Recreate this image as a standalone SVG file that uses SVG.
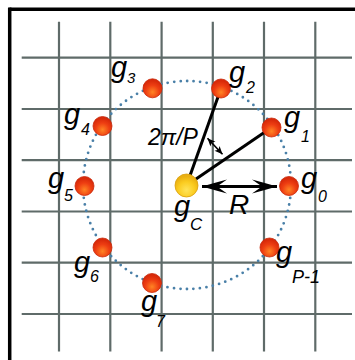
<svg xmlns="http://www.w3.org/2000/svg" width="355" height="360" viewBox="0 0 355 360">
<style>
.grid{stroke:#5f6b69;stroke-width:2.2;fill:none}
.frame{stroke:#000;stroke-width:3.5;fill:none}
.ring{fill:none;stroke:#4a80a8;stroke-width:2.8;stroke-linecap:round;stroke-dasharray:0 6.53}
.conn{stroke:#000;stroke-width:3;fill:none}
.thin{stroke:#000;stroke-width:1.6;fill:none}
.red{fill:url(#rg);stroke:#c8280a;stroke-width:0.8}
.yel{fill:url(#yg);stroke:#d9a010;stroke-width:0.8}
text{font-family:"Liberation Sans",Arial,sans-serif;font-style:italic;fill:#000}
.g{font-size:29px}
.s{font-size:16px}
</style>
<defs>
<radialGradient id="rg" cx="50%" cy="70%" r="60%">
<stop offset="0" stop-color="#ff8424"/>
<stop offset="0.6" stop-color="#ee3e12"/>
<stop offset="1" stop-color="#d82a0a"/>
</radialGradient>
<radialGradient id="yg" cx="50%" cy="70%" r="60%">
<stop offset="0" stop-color="#ffe45a"/>
<stop offset="0.6" stop-color="#fbcc20"/>
<stop offset="1" stop-color="#eab012"/>
</radialGradient>
<marker id="big" markerUnits="userSpaceOnUse" viewBox="-26 -8 28 16" refX="0" refY="0" markerWidth="28" markerHeight="16" orient="auto-start-reverse">
<path d="M0,0 Q-12,-3.5 -25,-7 L-15,0 L-25,7 Q-12,3.5 0,0 Z" fill="#000"/>
</marker>
<marker id="sm" markerUnits="userSpaceOnUse" viewBox="-9 -5 10 10" refX="0" refY="0" markerWidth="10" markerHeight="10" orient="auto-start-reverse">
<path d="M0,0 L-8,-3.5 L-6,0 L-8,3.5 Z" fill="#000"/>
</marker>
</defs>
<g id="frame">
<line class="frame" x1="9.5" y1="9.2" x2="355" y2="9.2"/>
<line class="frame" x1="9.7" y1="7.5" x2="9.7" y2="360"/>
</g>
<g id="grid">
<line class="grid" x1="59" y1="21.7" x2="59" y2="351.5"/>
<line class="grid" x1="110.3" y1="21.7" x2="110.3" y2="351.5"/>
<line class="grid" x1="161.6" y1="21.7" x2="161.6" y2="351.5"/>
<line class="grid" x1="212.8" y1="21.7" x2="212.8" y2="351.5"/>
<line class="grid" x1="264" y1="21.7" x2="264" y2="351.5"/>
<line class="grid" x1="315.3" y1="21.7" x2="315.3" y2="351.5"/>
<line class="grid" x1="21.7" y1="57.7" x2="352" y2="57.7"/>
<line class="grid" x1="21.7" y1="109" x2="352" y2="109"/>
<line class="grid" x1="21.7" y1="160.2" x2="352" y2="160.2"/>
<line class="grid" x1="21.7" y1="211.5" x2="352" y2="211.5"/>
<line class="grid" x1="21.7" y1="262.7" x2="352" y2="262.7"/>
<line class="grid" x1="21.7" y1="314" x2="352" y2="314"/>
</g>
<circle class="ring" cx="187" cy="185" r="104"/>
<g id="connectors">
<line class="conn" x1="186.5" y1="185.5" x2="221" y2="88.5"/>
<line class="conn" x1="186.5" y1="185.5" x2="271.5" y2="127.5"/>
<line class="conn" x1="202" y1="186.5" x2="277" y2="186.5" stroke-width="3.5" marker-start="url(#big)" marker-end="url(#big)"/>
<line class="thin" x1="207.5" y1="138.2" x2="222.5" y2="154.2" marker-start="url(#sm)" marker-end="url(#sm)"/>
</g>
<g id="g0"><circle class="red" cx="289" cy="186" r="9.5"/><text class="g" x="301" y="188">g</text><text class="s" x="318" y="202">0</text></g>
<g id="g1"><circle class="red" cx="271.5" cy="127.5" r="9.5"/><text class="g" x="284" y="127">g</text><text class="s" x="301" y="142">1</text></g>
<g id="g2"><circle class="red" cx="221" cy="88.5" r="9.5"/><text class="g" x="229" y="82">g</text><text class="s" x="246" y="93">2</text></g>
<g id="g3"><circle class="red" cx="152.5" cy="88.3" r="9.5"/><text class="g" x="111" y="77">g</text><text class="s" x="127" y="83" style="font-size:15px">3</text></g>
<g id="g4"><circle class="red" cx="102.5" cy="126" r="9.5"/><text class="g" x="64" y="124">g</text><text class="s" x="81" y="135">4</text></g>
<g id="g5"><circle class="red" cx="84.5" cy="186" r="9.5"/><text class="g" x="48" y="188">g</text><text class="s" x="64" y="201">5</text></g>
<g id="g6"><circle class="red" cx="102.5" cy="247.5" r="9.5"/><text class="g" x="74" y="272">g</text><text class="s" x="90" y="282">6</text></g>
<g id="g7"><circle class="red" cx="152" cy="283" r="9.5"/><text class="g" x="141" y="311">g</text><text class="s" x="156" y="327">7</text></g>
<g id="gP-1"><circle class="red" cx="269.5" cy="247.5" r="9.5"/><text class="g" x="276" y="262">g</text><text class="s" x="292" y="283" style="font-size:18px">P-1</text></g>
<g id="gC"><circle class="yel" cx="186.5" cy="185.5" r="11.5"/><text class="g" x="174" y="216">g</text><text class="s" x="190" y="230" style="font-size:17px">C</text></g>
<text x="148" y="145" style="font-size:23px">2π/P</text>
<text x="229" y="214" style="font-size:28px">R</text>
</svg>
